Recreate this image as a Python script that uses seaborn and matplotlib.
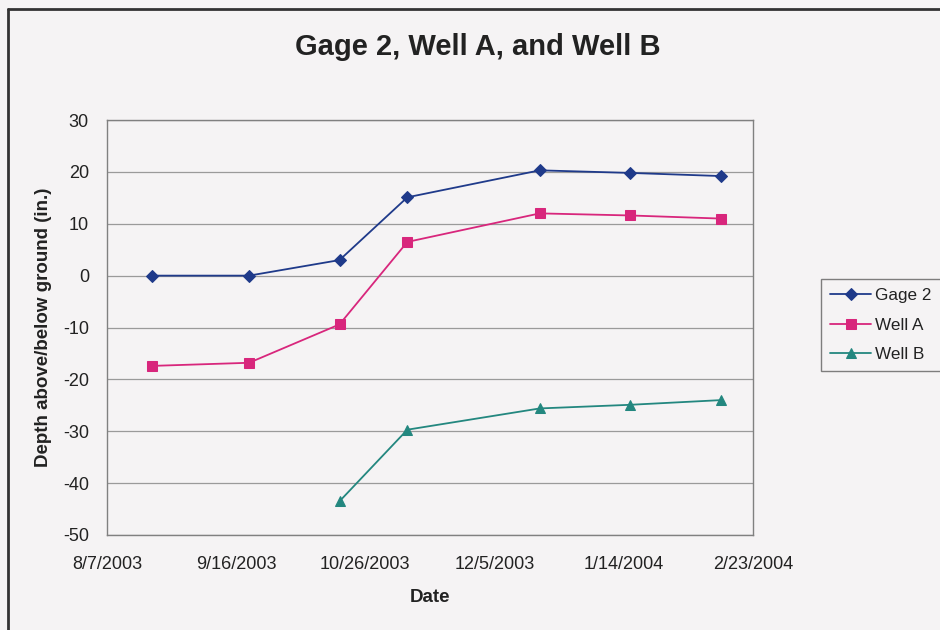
import matplotlib
matplotlib.use("Agg")
import matplotlib.pyplot as plt
from matplotlib.lines import Line2D
import numpy as np
import pandas as pd
import seaborn as sns

# Survey dates and readings (inches above/below ground)
dates = ["2003-08-21", "2003-09-20", "2003-10-18", "2003-11-08",
         "2003-12-19", "2004-01-16", "2004-02-13"]
gage_2 = [0.0, 0.0, 3.0, 15.1, 20.3, 19.8, 19.2]
well_a = [-17.4, -16.8, -9.4, 6.5, 12.0, 11.6, 11.0]
well_b = [np.nan, np.nan, -43.5, -29.7, -25.6, -24.9, -24.0]

series_names = ["Gage 2", "Well A", "Well B"]
series_values = [gage_2, well_a, well_b]
series_colors = ["#1f3a8a", "#d8267c", "#23877f"]
series_markers = ["D", "s", "^"]
marker_sizes = [6, 7, 7]

tick_dates = ["2003-08-07", "2003-09-16", "2003-10-26", "2003-12-05",
              "2004-01-14", "2004-02-23"]
tick_labels = ["8/7/2003", "9/16/2003", "10/26/2003", "12/5/2003",
               "1/14/2004", "2/23/2004"]
y_ticks = [30, 20, 10, 0, -10, -20, -30, -40, -50]

sns.set_theme(style="white")
plt.rcParams["font.family"] = ["Liberation Sans", "DejaVu Sans"]

bg = "#f5f3f4"
txt = "#222222"
fig = plt.figure(figsize=(9.4, 6.3), dpi=100, facecolor=bg)
ax = fig.add_axes([0.1138, 0.1508, 0.6872, 0.6587])
ax.set_facecolor(bg)

x = pd.to_datetime(dates)
for name, vals, col, mk, ms in zip(series_names, series_values,
                                   series_colors, series_markers, marker_sizes):
    df = pd.DataFrame({"Date": x, "Depth": vals}).dropna()
    sns.lineplot(data=df, x="Date", y="Depth", ax=ax, color=col,
                 marker=mk, markersize=ms, markeredgecolor=col,
                 linewidth=1.3, label=name, zorder=3)

tx = pd.to_datetime(tick_dates)
ax.set_xlim(tx[0], tx[-1])
ax.set_xticks(tx)
ax.set_xticklabels(tick_labels)
ax.set_ylim(-50, 30)
ax.set_yticks(y_ticks)
ax.set_yticklabels([str(v) for v in y_ticks])

ax.grid(axis="y", color="#9a9a9a", linewidth=0.9)
ax.grid(axis="x", visible=False)
for s in ax.spines.values():
    s.set_color("#808080")
    s.set_linewidth(1.0)
ax.tick_params(axis="both", direction="out", length=5, width=1,
               color="#808080", labelsize=13, labelcolor=txt)
ax.tick_params(axis="x", pad=10)
ax.tick_params(axis="y", pad=8)

ax.set_xlabel("Date", fontsize=13.5, fontweight="bold", color=txt, labelpad=12)
ax.set_ylabel("Depth above/below ground (in.)", fontsize=13.5, fontweight="bold",
              color=txt, labelpad=8)

fig.text(0.508, 0.925, "Gage 2, Well A, and Well B", ha="center", va="center",
         fontsize=21, fontweight="bold", color=txt)

leg = ax.legend(loc="center left", bbox_to_anchor=(0.873, 0.484),
                bbox_transform=fig.transFigure, frameon=True, fancybox=False,
                fontsize=12.3, handlelength=2.4, borderpad=0.55, labelspacing=0.85,
                handletextpad=0.25, borderaxespad=0)
leg.get_frame().set_edgecolor("#606060")
leg.get_frame().set_facecolor(bg)
leg.get_frame().set_linewidth(1.0)
for t in leg.get_texts():
    t.set_color(txt)

# outer chart frame
fig.add_artist(Line2D([0.009, 1.0], [0.986, 0.986], transform=fig.transFigure,
                      color="#333333", linewidth=2))
fig.add_artist(Line2D([0.009, 0.009], [0.0, 0.986], transform=fig.transFigure,
                      color="#333333", linewidth=2))

fig.savefig("out.png", dpi=100, facecolor=bg)
